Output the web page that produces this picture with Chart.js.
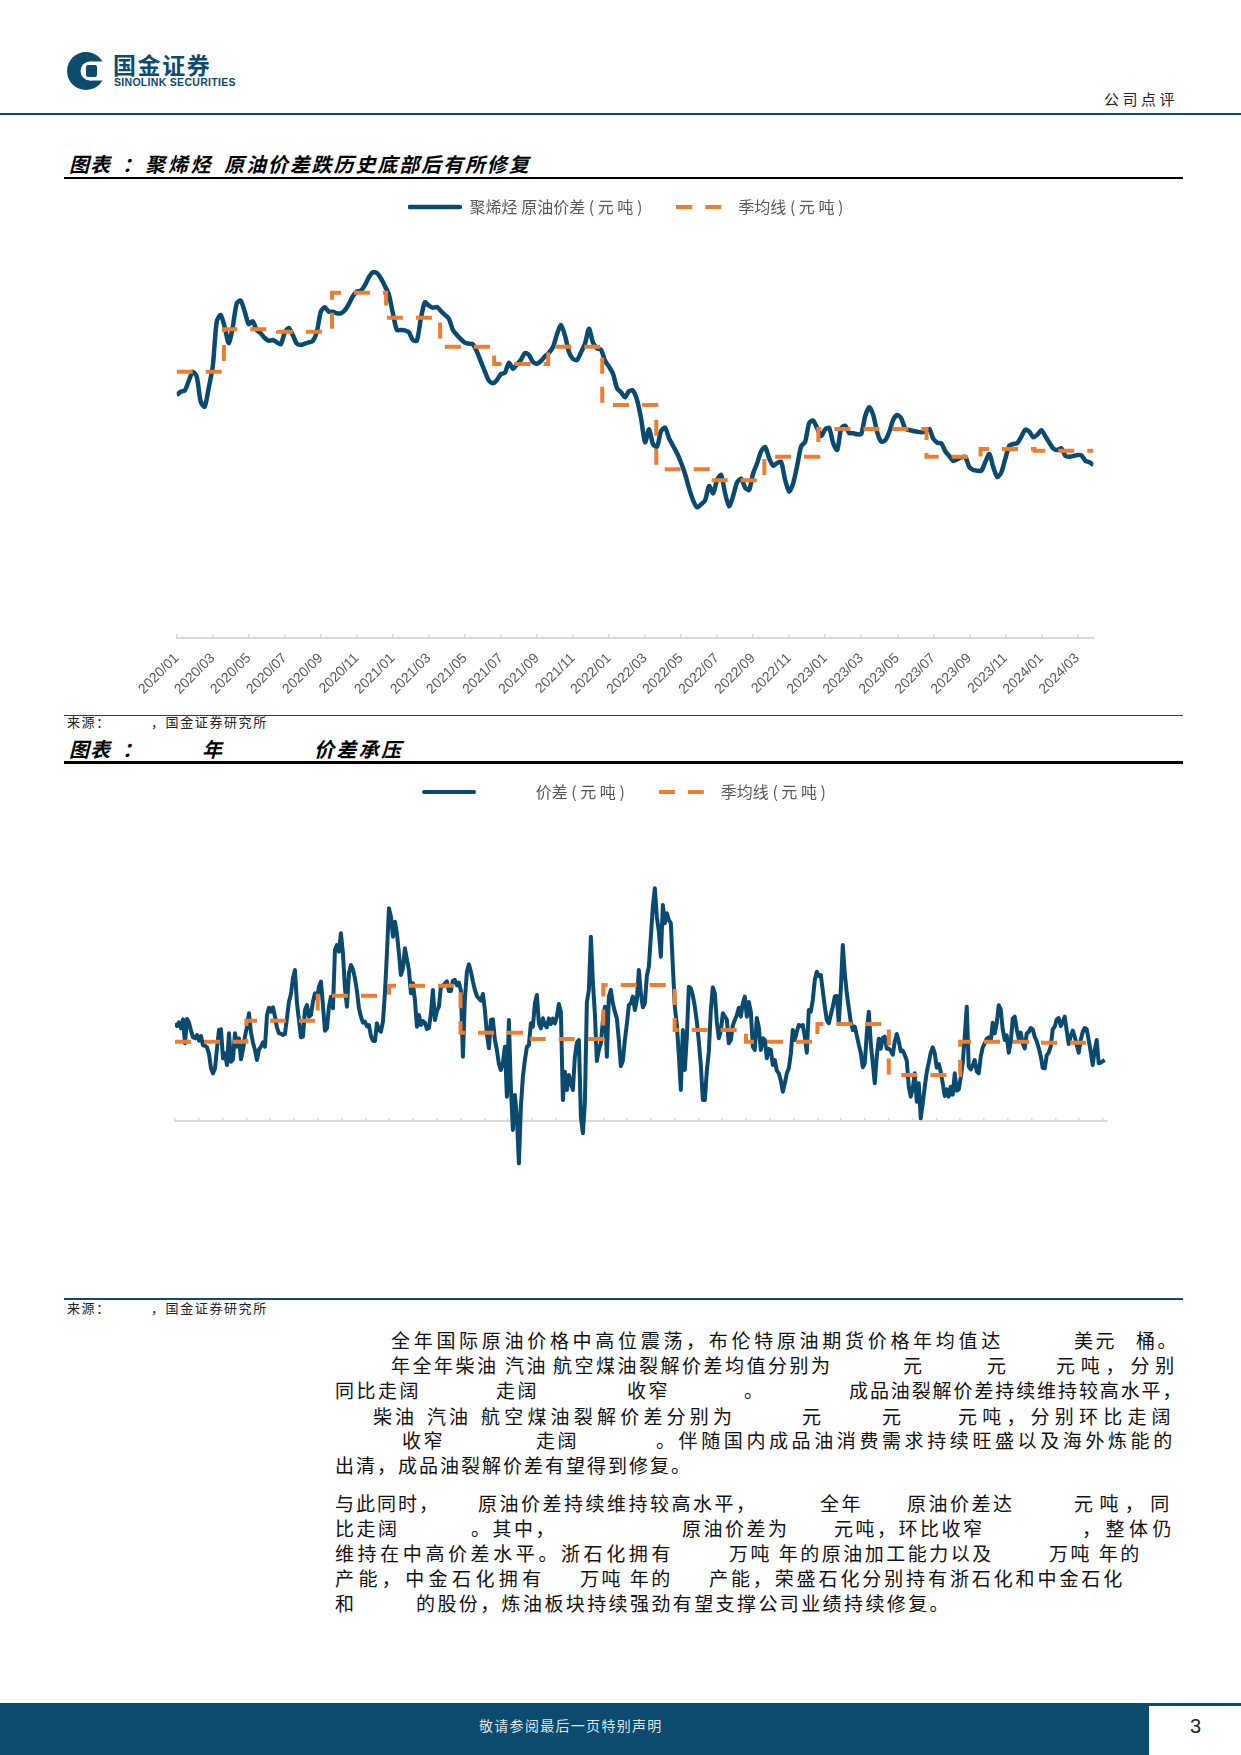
<!DOCTYPE html>
<html lang="zh-CN">
<head>
<meta charset="utf-8">
<title>公司点评</title>
<script src="https://cdn.jsdelivr.net/npm/chart.js@4.4.1/dist/chart.umd.min.js"></script>
<style>
  html, body { margin: 0; padding: 0; background: #fff; }
  #page { position: relative; width: 1241px; height: 1755px; overflow: hidden; font-family: "Noto Sans CJK SC", sans-serif; color: #111; }
  .abs { position: absolute; white-space: pre; }
  .ttl { font-size: 20px; font-weight: 700; font-style: italic; line-height: 24px; color: #000; }
  .body { font-size: 19px; line-height: 22px; color: #111; }
  .src { font-size: 13px; line-height: 16px; letter-spacing: 1.6px; color: #222; }
  canvas { position: absolute; left: 0; }
</style>
</head>
<body>
<div id="page">
  <!-- header -->
  <svg class="abs" style="left:66px;top:50px" width="42" height="42" viewBox="0 0 42 42">
    <circle cx="20" cy="21" r="19" fill="#0c4a6e"/>
    <circle cx="24" cy="21" r="9.5" fill="#fff"/>
    <rect x="24" y="11.5" width="18" height="19" fill="#fff"/>
    <rect x="20" y="15" width="11" height="12" rx="2" fill="#0c4a6e"/>
  </svg>
  <div class="abs" style="left:113px;top:50px;font-size:23px;font-weight:700;letter-spacing:1.6px;color:#0c4a6e;line-height:28px">国金证券</div>
  <div class="abs" style="left:114px;top:77px;font-family:'Liberation Sans',sans-serif;font-size:10.5px;font-weight:700;letter-spacing:0.3px;color:#0c4a6e;line-height:11px">SINOLINK SECURITIES</div>
  <div class="abs" style="left:1104px;top:89px;font-size:15px;letter-spacing:3.5px;color:#222;line-height:19px">公司点评</div>
  <div class="abs" style="left:0;top:113px;width:1241px;height:2px;background:#0c4a6e"></div>

  <!-- chart 1 title -->
  <div class="abs ttl" style="left:69px;top:152px;letter-spacing:1px">图表</div>
  <div class="abs ttl" style="left:122px;top:152px">：</div>
  <div class="abs ttl" style="left:145px;top:152px;letter-spacing:2.7px">聚烯烃</div>
  <div class="abs ttl" style="left:224px;top:152px;letter-spacing:1.9px">原油价差跌历史底部后有所修复</div>
  <div class="abs" style="left:64px;top:176.5px;width:1119px;height:2.5px;background:#000"></div>

  <canvas id="c1" width="1241" height="545" style="top:165px"></canvas>

  <div class="abs" style="left:64px;top:714.5px;width:1119px;height:1.5px;background:#0c4a6e"></div>
  <div class="abs src" style="left:67px;top:714px">来源：</div>
  <div class="abs src" style="left:151px;top:714px">，国金证券研究所</div>

  <!-- chart 2 title -->
  <div class="abs ttl" style="left:69px;top:736.5px;letter-spacing:1px">图表</div>
  <div class="abs ttl" style="left:122px;top:736.5px">：</div>
  <div class="abs ttl" style="left:202px;top:736.5px">年</div>
  <div class="abs ttl" style="left:314px;top:736.5px;letter-spacing:2.3px">价差承压</div>
  <div class="abs" style="left:64px;top:761px;width:1119px;height:2.5px;background:#000"></div>

  <canvas id="c2" width="1241" height="540" style="top:750px"></canvas>

  <div class="abs" style="left:64px;top:1298px;width:1119px;height:1.5px;background:#0c4a6e"></div>
  <div class="abs src" style="left:67px;top:1300px">来源：</div>
  <div class="abs src" style="left:151px;top:1300px">，国金证券研究所</div>

  <div id="bodytext"></div>

  <!-- footer -->
  <div class="abs" style="left:0;top:1703px;width:1241px;height:3px;background:#0c4a6e"></div>
  <div class="abs" style="left:0;top:1703px;width:1149px;height:52px;background:#0c4a6e"></div>
  <div class="abs" style="left:479px;top:1716px;font-size:14px;letter-spacing:1.3px;color:#dfe6ee;line-height:19px">敬请参阅最后一页特别声明</div>
  <div class="abs" style="left:1190px;top:1714px;font-family:'Liberation Sans',sans-serif;font-size:20px;color:#222;line-height:24px">3</div>
</div>

<script>
const BLUE = "#0a4a6e";
const ORANGE = "#ed7d31";
const FONT = '"Noto Sans CJK SC", sans-serif';
const DASH = [16, 13];

// chart 1: polyolefin - crude spread, one point per sample step
const monthTicks = [
  "2020/01", "2020/03", "2020/05", "2020/07", "2020/09", "2020/11",
  "2021/01", "2021/03", "2021/05", "2021/07", "2021/09", "2021/11",
  "2022/01", "2022/03", "2022/05", "2022/07", "2022/09", "2022/11",
  "2023/01", "2023/03", "2023/05", "2023/07", "2023/09", "2023/11",
  "2024/01", "2024/03"
];
const polySpread = [
  2430, 2463, 2473, 2570, 2663, 2613, 2363, 2313, 2503, 2713,
  3163, 3230, 3107, 2947, 3110, 3347, 3373, 3263, 3140, 3167,
  3077, 3047, 3000, 2973, 2980, 2957, 2937, 3053, 3100, 3030,
  2943, 2930, 2943, 2957, 2970, 3060, 3263, 3307, 3263, 3263,
  3247, 3247, 3277, 3340, 3417, 3463, 3473, 3527, 3607, 3657,
  3650, 3597, 3520, 3433, 3247, 3080, 3080, 3077, 3057, 2980,
  2973, 3197, 3357, 3323, 3303, 3310, 3270, 3230, 3193, 3080,
  3030, 2987, 2953, 2943, 2937, 2863, 2763, 2663, 2573, 2547,
  2580, 2640, 2653, 2753, 2693, 2737, 2783, 2850, 2830, 2760,
  2743, 2770, 2817, 2853, 2910, 3037, 3130, 3023, 2860, 2790,
  2780, 2857, 2943, 3093, 2953, 2897, 2883,
  2773, 2713, 2643, 2497, 2457, 2407, 2470, 2473, 2380, 2197,
  1957, 2087, 1937, 1913, 2070, 2103, 1997, 1923, 1847, 1753,
  1640, 1497, 1377, 1307, 1337, 1377, 1520, 1447, 1580, 1630,
  1447, 1317, 1420, 1557, 1593, 1503, 1480, 1647, 1747, 1867,
  1910, 1797, 1723, 1750, 1760, 1580, 1463, 1547, 1723, 1917,
  1963, 2150, 2173, 2097, 2020, 2087, 2100, 1947, 1880, 2097,
  2123, 2050, 2047, 2037, 2040, 2220, 2307, 2230, 2057, 1963,
  1977, 2060, 2183, 2230, 2197, 2093, 2080, 2070, 2063, 2057,
  2063, 2090, 1993, 1953, 1947, 1867, 1820, 1770, 1787, 1807,
  1810, 1710, 1680, 1673, 1673, 1760, 1840, 1707, 1610, 1657,
  1793, 1923, 1940, 1950, 2013, 2083, 2063, 2007, 2033, 2077,
  2017, 1953, 1893, 1880, 1897, 1820, 1813, 1820, 1830, 1827,
  1773, 1757, 1730
];
const polyQuarterStart = [0, 11.8, 25.3, 38.8, 52.3, 65.8, 79.3, 92.8, 106.3, 119.8, 133.3, 146.8, 160.3, 173.8, 187.3, 200.8, 214.3];
const polyQuarterAvg = [2663, 3087, 3063, 3453, 3203, 2913, 2740, 2913, 2330, 1687, 1577, 1813, 2090, 2090, 1813, 1890, 1873];

// chart 2: spread, resampled points, 39 months
const spread2 = [
  292, 284, 295, 277, 304, 232, 305, 294, 270, 250,
  247, 257, 240, 254, 226, 225, 220, 200, 157, 142,
  157, 217, 272, 274, 187, 202, 167, 262, 177, 184,
  262, 222, 247, 184, 214, 252, 282, 322, 264, 234,
  212, 182, 214, 222, 235, 222, 316, 339, 327, 340,
  312, 279, 262, 261, 257, 260, 307, 357, 380, 427,
  452, 352, 302, 250, 252, 332, 347, 312, 317, 357,
  382, 367, 402, 417, 347, 270, 277, 342, 372, 337,
  512, 527, 507, 562, 502, 397, 342, 442, 467, 454,
  427, 389, 337, 312, 294, 297, 283, 287, 254, 240,
  239, 292, 272, 267, 297, 382, 502, 637, 612, 552,
  597, 562, 502, 437, 457, 517, 484, 452, 382, 412,
  362, 282, 317, 287, 299, 294, 275, 278, 322, 392,
  302, 329, 342, 402, 404, 412, 418, 389, 389, 420,
  422, 406, 414, 390, 192, 367, 447, 469, 447, 418,
  392, 374, 366, 360, 380, 332, 260, 217, 302, 304,
  242, 212, 170, 152, 174, 222, 72, 302, 97, -28,
  77, 12, -128, 42, 132, 182, 221, 227, 292, 282,
  352, 377, 292, 277, 307, 287, 280, 307, 290, 306,
  292, 312, 350, 327, 62, 147, 92, 137, 112, 92,
  192, 234, 242, 12, -38, 52, 356, 392, 552, 417,
  322, 179, 212, 232, 299, 342, 192, 372, 392, 352,
  327, 307, 242, 164, 179, 242, 290, 347, 352, 372,
  332, 362, 452, 382, 340, 352, 434, 462, 552, 642,
  697, 612, 567, 492, 647, 592, 622, 602, 592, 462,
  342, 287, 197, 92, 272, 152, 252, 402, 397, 376,
  342, 297, 237, 167, 62, 62, 150, 207, 332, 400,
  382, 297, 247, 270, 322, 312, 304, 232, 242, 286,
  302, 316, 339, 312, 352, 372, 312, 356, 327, 222,
  212, 308, 280, 212, 247, 242, 187, 215, 212, 167,
  182, 150, 142, 120, 87, 112, 142, 157, 200, 272,
  242, 267, 287, 284, 287, 252, 204, 332, 327, 362,
  422, 447, 434, 437, 390, 342, 302, 292, 317, 342,
  372, 374, 292, 392, 527, 442, 382, 338, 296, 272,
  282, 256, 228, 204, 160, 172, 262, 327, 232, 172,
  112, 194, 246, 216, 248, 252, 216, 216, 210, 198,
  237, 260, 238, 208, 210, 197, 180, 102, 72, 98,
  142, 57, 112, 7, 52, 102, 146, 174, 204, 220,
  202, 159, 170, 146, 112, 74, 94, 72, 102, 78,
  142, 90, 94, 130, 174, 252, 342, 162, 154, 166,
  182, 148, 142, 192, 220, 232, 246, 250, 238, 294,
  262, 292, 346, 334, 274, 242, 256, 204, 234, 306,
  312, 274, 246, 264, 232, 217, 262, 266, 278, 274,
  252, 238, 218, 194, 158, 157, 196, 204, 222, 274,
  282, 304, 308, 284, 296, 312, 270, 230, 254, 270,
  252, 228, 204, 242, 266, 278, 274, 242, 207, 167,
  212, 242, 172, 174, 178, 182
];
const quarterAvg2 = [237, 300, 375, 405, 264, 245, 407, 272, 237, 290, 137, 237, 234];
const quarterAvg2End = 459;
const SAMPLES_PER_MONTH_2 = 11.9;

const stepData = (starts, avgs, end) =>
  starts.map((x, i) => ({ x: x, y: avgs[i] })).concat([{ x: end, y: avgs[avgs.length - 1] }]);

// legend marker drawn as a small canvas so the dash pattern shows
const legendIcon = (ds) => {
  const c = document.createElement("canvas");
  c.width = 54;
  c.height = 8;
  const g = c.getContext("2d");
  g.strokeStyle = ds.borderColor;
  g.lineWidth = ds.borderWidth;
  g.lineCap = ds.borderDash ? "butt" : "round";
  g.setLineDash(ds.borderDash || []);
  g.beginPath();
  g.moveTo(ds.borderDash ? 0 : 2, 4);
  g.lineTo(ds.borderDash ? 54 : 52, 4);
  g.stroke();
  return c;
};

const legendOpts = {
  display: true,
  position: "top",
  labels: {
    usePointStyle: true,
    pointStyle: "line",
    pointStyleWidth: 54,
    padding: 34,
    color: "#595959",
    font: { family: FONT, size: 16 },
    sort: (a, b) => a.datasetIndex - b.datasetIndex,
    generateLabels: (chart) => {
      const items = Chart.defaults.plugins.legend.labels.generateLabels(chart);
      items.forEach((it) => { it.pointStyle = legendIcon(chart.data.datasets[it.datasetIndex]); });
      return items;
    }
  }
};

const hiddenY = (w, extra) => Object.assign({
  afterFit: (s) => { s.width = w; },
  ticks: { display: false },
  grid: { display: false },
  border: { display: false }
}, extra);

// chart 1
new Chart(document.getElementById("c1"), {
  type: "line",
  data: {
    datasets: [
      {
        label: "聚烯烃 原油价差 ( 元 吨 )",
        data: polySpread.map((v, i) => ({ x: i, y: v })),
        borderColor: BLUE,
        backgroundColor: BLUE,
        borderWidth: 4.5,
        borderJoinStyle: "round",
        pointRadius: 0,
        tension: 0.25,
        order: 1
      },
      {
        label: "季均线 ( 元 吨 )",
        data: stepData(polyQuarterStart, polyQuarterAvg, polySpread.length - 1),
        borderColor: ORANGE,
        backgroundColor: ORANGE,
        borderWidth: 4,
        borderDash: DASH,
        borderCapStyle: "butt",
        pointRadius: 0,
        stepped: true,
        order: 0
      }
    ]
  },
  options: {
    responsive: false,
    animation: false,
    layout: { padding: { left: 10, right: 0, top: 0, bottom: 0 } },
    plugins: { legend: legendOpts, tooltip: { enabled: false } },
    scales: {
      x: {
        type: "linear",
        position: "bottom",
        bounds: "data",
        min: 0,
        max: polySpread.length - 1,
        afterFit: (s) => { s.height = 72; },
        afterBuildTicks: (s) => { s.ticks = monthTicks.map((_, k) => ({ value: k * 9 })); },
        border: { display: true, color: "#d9d9d9", width: 2 },
        grid: { display: true, drawOnChartArea: false, drawTicks: true, tickLength: -4, color: "#d9d9d9", lineWidth: 1.5 },
        ticks: {
          autoSkip: false,
          minRotation: 45,
          maxRotation: 45,
          padding: 16,
          color: "#595959",
          font: { family: '"Liberation Sans", Arial, sans-serif', size: 14 },
          callback: (v) => monthTicks[Math.round(v / 9)] || ""
        }
      },
      y: hiddenY(166.7, { type: "linear", min: 0, max: 4130 }),
      yR: hiddenY(147.6, { type: "linear", position: "right" })
    }
  }
});

// chart 2
const q2Len = 3 * SAMPLES_PER_MONTH_2;
new Chart(document.getElementById("c2"), {
  type: "line",
  data: {
    datasets: [
      {
        label: "\u3000\u3000\u3000 价差 ( 元 吨 )",
        data: spread2.map((v, i) => ({ x: i, y: v })),
        borderColor: BLUE,
        backgroundColor: BLUE,
        borderWidth: 4,
        borderJoinStyle: "round",
        pointRadius: 0,
        tension: 0,
        order: 1
      },
      {
        label: "季均线 ( 元 吨 )",
        data: stepData(quarterAvg2.map((_, q) => q * q2Len), quarterAvg2, quarterAvg2End),
        borderColor: ORANGE,
        backgroundColor: ORANGE,
        borderWidth: 4,
        borderDash: DASH,
        borderCapStyle: "butt",
        pointRadius: 0,
        stepped: true,
        order: 0
      }
    ]
  },
  options: {
    responsive: false,
    animation: false,
    layout: { padding: { left: 7, right: 0, top: 0, bottom: 0 } },
    plugins: { legend: legendOpts, tooltip: { enabled: false } },
    scales: {
      x: {
        type: "linear",
        position: { y: 0 },
        bounds: "data",
        min: 0,
        max: spread2.length,
        afterBuildTicks: (s) => {
          const t = [];
          for (let k = 0; k * SAMPLES_PER_MONTH_2 <= spread2.length; k++) t.push({ value: k * SAMPLES_PER_MONTH_2 });
          s.ticks = t;
        },
        border: { display: true, color: "#d9d9d9", width: 2 },
        grid: { display: true, drawOnChartArea: false, drawTicks: true, tickLength: -4, color: "#d9d9d9", lineWidth: 1.5 },
        ticks: { display: false }
      },
      y: hiddenY(168, { type: "linear", min: -508, max: 932 }),
      yR: hiddenY(134.3, { type: "linear", position: "right" })
    }
  }
});

// body text
const bodyRows = [
  [1339.5, [[391, "全年国际原油价格中高位震荡，布伦特原油期货价格年均值达", 22.7], [1074, "美元", 21.5], [1136, "桶。", 21.5]]],
  [1365, [[391, "年全年柴油", 21.5], [505, "汽油", 21.5], [553, "航空煤油裂解价差均值分别为", 21.5], [903, "元", 21], [987, "元", 21], [1056, "元吨，分别", 24.8]]],
  [1389.5, [[335, "同比走阔", 21.5], [496, "走阔", 21.5], [627, "收窄", 21.5], [744, "。", 21], [849, "成品油裂解价差持续维持较高水平，", 20.9]]],
  [1415.5, [[373, "柴油", 22], [427, "汽油", 22], [481, "航空煤油裂解价差分别为", 23.2], [802, "元", 21], [882, "元", 21], [958, "元吨，分别环比走阔", 24.2]]],
  [1440, [[402, "收窄", 21.5], [536, "走阔", 21.5], [656, "。伴随国内成品油消费需求持续旺盛以及海外炼能的", 22.6]]],
  [1465, [[335, "出清，成品油裂解价差有望得到修复。", 21]]],
  [1503, [[335, "与此同时，", 21], [478, "原油价差持续维持较高水平，", 21.5], [820, "全年", 21.5], [907, "原油价差达", 21.5], [1074, "元吨，同", 25.4]]],
  [1527.5, [[335, "比走阔", 21.5], [471, "。其中，", 21.5], [682, "原油价差为", 21.5], [834, "元吨，环比收窄", 21.5], [1082, "，整体仍", 23.5]]],
  [1553, [[335, "维持在中高价差水平。浙石化拥有", 22.6], [729, "万吨 年的原油加工能力以及", 21.5], [1049, "万吨 年的", 21.5]]],
  [1578, [[335, "产能，中金石化拥有", 23.4], [580, "万吨 年的", 21.5], [709, "产能，荣盛石化分别持有浙石化和中金石化", 21.9]]],
  [1602.5, [[335, "和", 21], [416, "的股份，炼油板块持续强劲有望支撑公司业绩持续修复。", 21.4]]]
];
const holder = document.getElementById("bodytext");
bodyRows.forEach(([cy, segs]) => {
  segs.forEach(([x, text, pitch]) => {
    const s = document.createElement("div");
    s.className = "abs body";
    s.style.left = x + "px";
    s.style.top = (cy - 11) + "px";
    s.style.letterSpacing = (pitch - 19) + "px";
    s.textContent = text;
    holder.appendChild(s);
  });
});
</script>
</body>
</html>
